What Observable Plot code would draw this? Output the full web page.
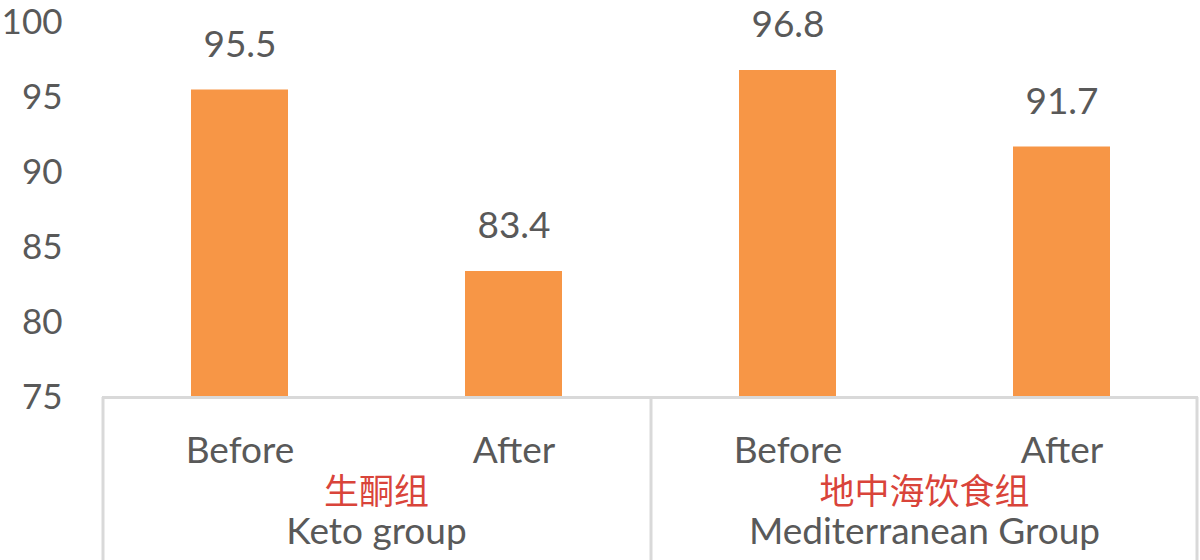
<!DOCTYPE html>
<html>
<head>
<meta charset="utf-8">
<script src="https://cdn.jsdelivr.net/npm/d3@7"></script>
<script src="https://cdn.jsdelivr.net/npm/@observablehq/plot@0.6"></script>
<style>
  html, body { margin: 0; padding: 0; background: #ffffff; }
  #chart { width: 1200px; height: 560px; overflow: hidden; }
</style>
</head>
<body>
<div id="chart"></div>
<script>
// ---- data ----
const groups = ["Keto", "Mediterranean"];
const groupZh = ["生酮组", "地中海饮食组"];
const groupEn = ["Keto group", "Mediterranean Group"];
const phases = ["Before", "After"];
const ketoValues = [95.5, 83.4];
const medValues = [96.8, 91.7];
const yTicks = [75, 80, 85, 90, 95, 100];

// ---- build tables ----
const seriesByGroup = [ketoValues, medValues];
const rows = [];
groups.forEach((g, gi) => phases.forEach((p, pi) => rows.push({group: g, phase: p, value: seriesByGroup[gi][pi]})));
const groupRows = groups.map((g, i) => ({group: g, zh: groupZh[i], en: groupEn[i]}));

const W = 1200, H = 560;
const mL = 102, mR = 2, mT = 22, mB = 163;
const step = (W - mL - mR) / (groups.length * phases.length);
const yMin = yTicks[0], yMax = yTicks[yTicks.length - 1];
const plotH = H - mT - mB;
const yBottom = yMin - (mB / plotH) * (yMax - yMin);

const gray = "#595959";
const lineColor = "#D9D9D9";
const orange = "#F79646";
const red = "#D9443A";

const chart = Plot.plot({
  width: W,
  height: H,
  marginLeft: mL,
  marginRight: mR,
  marginTop: mT,
  marginBottom: mB,
  style: {fontFamily: "Lato, 'Noto Sans', sans-serif", fontSize: "35px", color: gray, background: "#ffffff", overflow: "visible"},
  fx: {domain: groups, padding: 0, axis: null},
  x: {domain: phases, paddingInner: 0.646, paddingOuter: 0.323, axis: null},
  y: {domain: [yMin, yMax], ticks: yTicks, label: null},
  marks: [
    Plot.barY(rows, {fx: "group", x: "phase", y1: yMin, y2: "value", fill: orange}),
    Plot.axisY({ticks: yTicks, tickSize: 0, tickPadding: 40, label: null, fill: gray, fontSize: 35}),
    Plot.ruleY([yMin], {stroke: lineColor, strokeWidth: 3}),
    Plot.ruleX(rows.filter(d => d.phase === phases[0]), {fx: "group", x: "phase", y1: yMin, y2: yBottom, dx: -step / 2, stroke: lineColor, strokeWidth: 3}),
    Plot.ruleX(rows.filter(d => d.group === groups[groups.length - 1] && d.phase === phases[phases.length - 1]), {fx: "group", x: "phase", y1: yMin, y2: yBottom, dx: step / 2 - 2, stroke: lineColor, strokeWidth: 3}),
    Plot.text(rows, {fx: "group", x: "phase", y: "value", text: d => d.value.toFixed(1), dy: -45, fill: gray, fontSize: 37}),
    Plot.text(rows, {fx: "group", x: "phase", y: yMin, text: "phase", dy: 54, fill: gray, fontSize: 37}),
    Plot.text(groupRows, {fx: "group", text: "zh", frameAnchor: "bottom", lineAnchor: "middle", dy: 95, fill: red, fontSize: 35, fontFamily: "'Noto Sans CJK SC', sans-serif"}),
    Plot.text(groupRows, {fx: "group", text: "en", frameAnchor: "bottom", lineAnchor: "middle", dy: 135, fill: gray, fontSize: 37})
  ]
});
document.getElementById("chart").appendChild(chart);
</script>
</body>
</html>
